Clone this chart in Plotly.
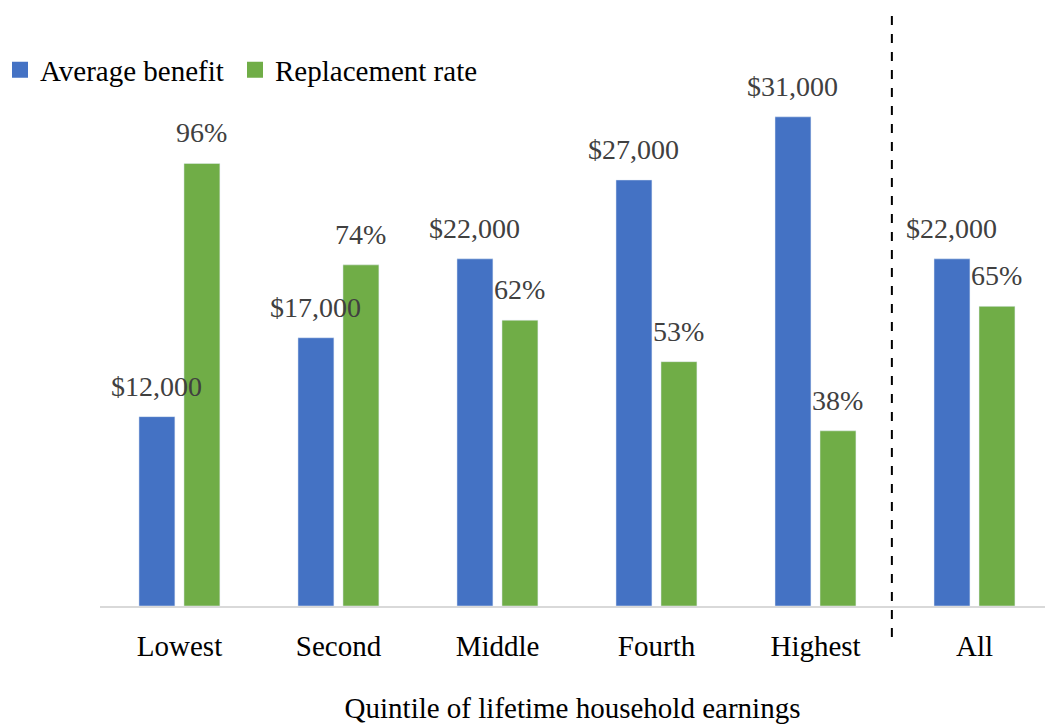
import plotly.graph_objects as go

categories = ["Lowest", "Second", "Middle", "Fourth", "Highest", "All"]
avg_benefit = [12000, 17000, 22000, 27000, 31000, 22000]
replacement_rate = [0.96, 0.74, 0.62, 0.53, 0.38, 0.65]

BLUE = "#4472C4"
GREEN = "#70AD47"
FONT = "Liberation Serif"

W, H = 1045, 724
ML, MR, MT, MB = 100, 0, 60, 118
x_range = [-0.5, 5.443]
px_per_cat = (W - ML - MR) / (x_range[1] - x_range[0])

bar_w = 0.226
off_blue = -0.255
off_green = 0.028

fig = go.Figure()
fig.add_trace(go.Bar(
    x=categories, y=avg_benefit, name="Average benefit",
    marker_color=BLUE, offset=off_blue, width=bar_w,
    yaxis="y", showlegend=False,
))
fig.add_trace(go.Bar(
    x=categories, y=replacement_rate, name="Replacement rate",
    marker_color=GREEN, offset=off_green, width=bar_w,
    yaxis="y2", showlegend=False,
))

# legend entries with larger square swatches, one legend each
for name, col, lg in [("Average benefit", BLUE, "legend"),
                      ("Replacement rate", GREEN, "legend2")]:
    fig.add_trace(go.Scatter(
        x=[None], y=[None], mode="markers", name=name, legend=lg,
        marker=dict(symbol="square", size=18, color=col),
    ))

annotations = []
for cat, v in zip(categories, avg_benefit):
    annotations.append(dict(
        x=cat, y=v, xref="x", yref="y", text=f"${v:,}", showarrow=False,
        xshift=(off_blue + bar_w / 2) * px_per_cat, yshift=13,
        yanchor="bottom", font=dict(family=FONT, size=28, color="#404040"),
    ))
for cat, v in zip(categories, replacement_rate):
    annotations.append(dict(
        x=cat, y=v, xref="x", yref="y2", text=f"{round(v * 100)}%", showarrow=False,
        xshift=(off_green + bar_w / 2) * px_per_cat, yshift=13,
        yanchor="bottom", font=dict(family=FONT, size=28, color="#404040"),
    ))

legend_style = dict(
    orientation="h", xref="container", yref="container",
    y=1 - 70 / H, xanchor="left", yanchor="middle",
    font=dict(family=FONT, size=29, color="black"),
    bgcolor="rgba(0,0,0,0)",
)

fig.update_layout(
    width=W, height=H,
    margin=dict(l=ML, r=MR, t=MT, b=MB, autoexpand=False),
    plot_bgcolor="white", paper_bgcolor="white",
    font=dict(family=FONT, size=29, color="black"),
    barmode="overlay",
    annotations=annotations,
    legend=dict(x=-14 / W, **legend_style),
    legend2=dict(x=235 / W, **legend_style),
    xaxis=dict(
        type="category", range=x_range, automargin=False,
        showline=True, linecolor="#D9D9D9", linewidth=2,
        showgrid=False, zeroline=False,
        ticks="outside", ticklen=13, tickcolor="rgba(0,0,0,0)",
        tickfont=dict(family=FONT, size=29, color="black"),
        title=dict(text="Quintile of lifetime household earnings",
                   font=dict(family=FONT, size=29, color="black"), standoff=41),
    ),
    yaxis=dict(range=[0, 34601], visible=False, showgrid=False, automargin=False),
    yaxis2=dict(range=[0, 1.1844], overlaying="y", visible=False, showgrid=False,
                automargin=False),
    shapes=[dict(
        type="line", xref="x", yref="paper",
        x0=4.48, x1=4.48, y0=-31 / 546, y1=592 / 546,
        line=dict(color="black", width=2, dash="dash"),
    )],
)

fig.write_html("out.html", config={"displayModeBar": False},
               post_script="document.body.style.margin = '0';")
